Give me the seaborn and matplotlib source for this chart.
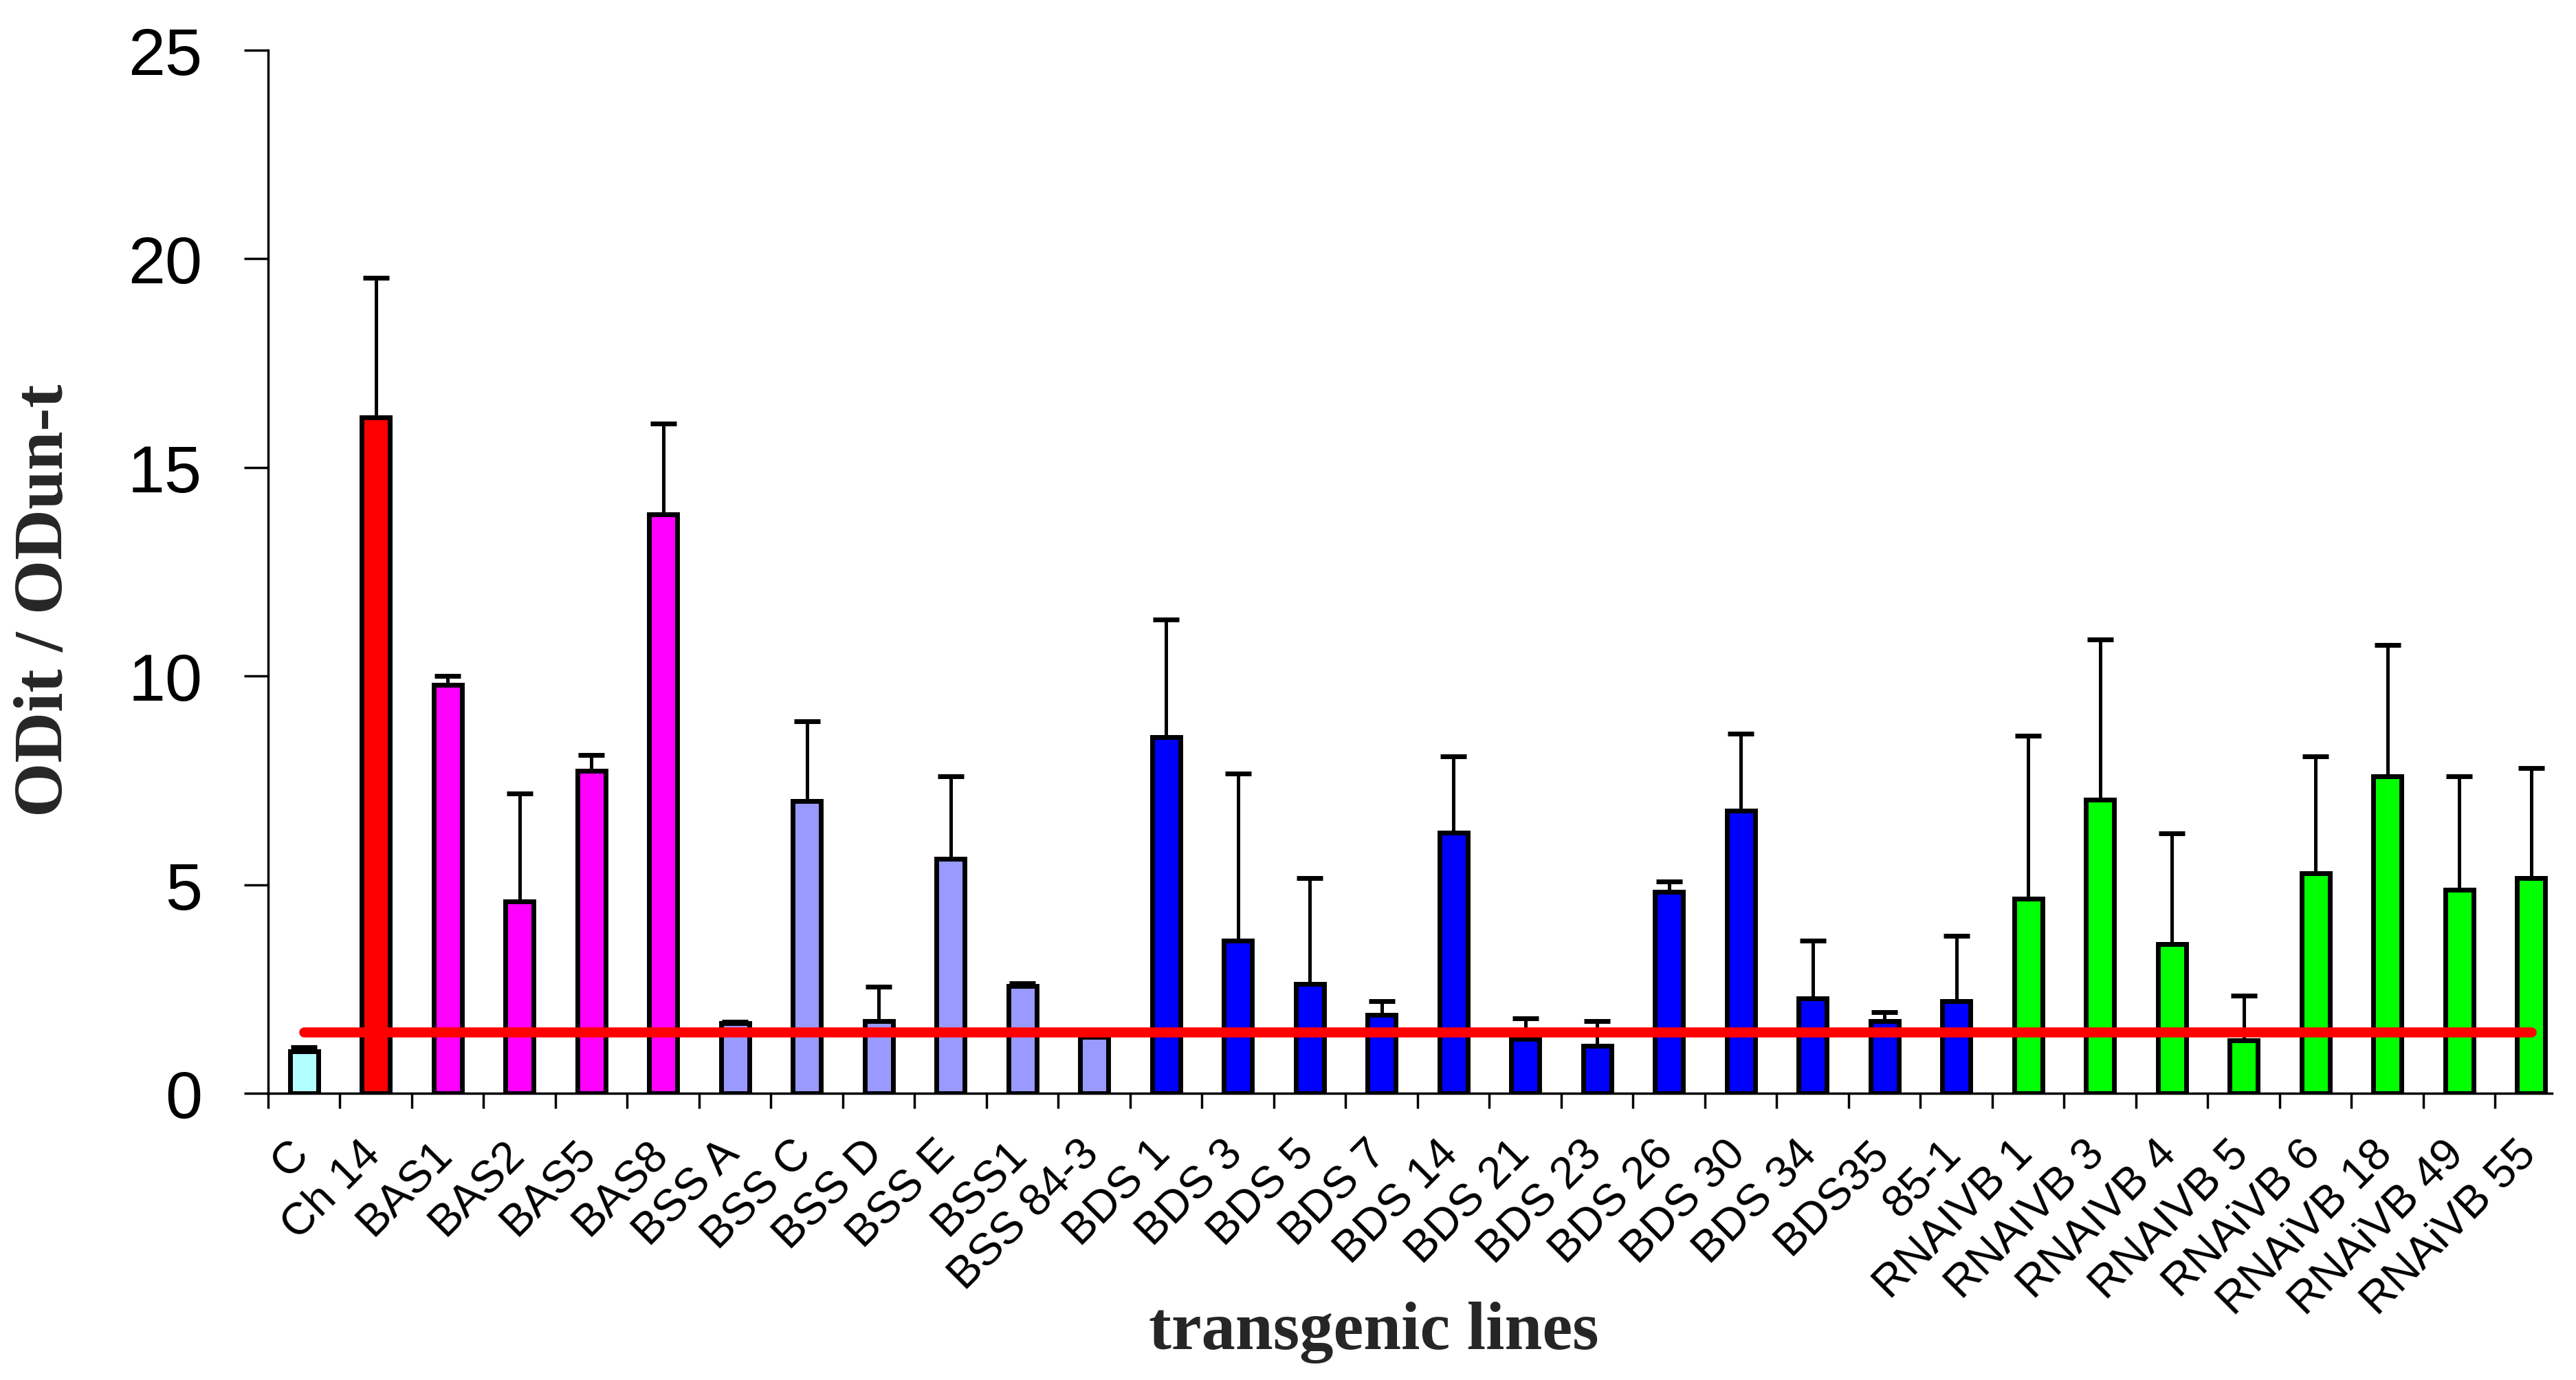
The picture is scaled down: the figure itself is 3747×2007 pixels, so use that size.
import matplotlib
matplotlib.use("Agg")
import matplotlib.pyplot as plt
import seaborn as sns
import pandas as pd
import numpy as np
from matplotlib.transforms import ScaledTranslation

# ---------------- data ----------------
categories = ["C", "Ch 14", "BAS1", "BAS2", "BAS5", "BAS8", "BSS A", "BSS C",
              "BSS D", "BSS E", "BSS1", "BSS 84-3", "BDS 1", "BDS 3", "BDS 5",
              "BDS 7", "BDS 14", "BDS 21", "BDS 23", "BDS 26", "BDS 30",
              "BDS 34", "BDS35", "85-1", "RNAIVB 1", "RNAIVB 3", "RNAIVB 4",
              "RNAIVB 5", "RNAiVB 6", "RNAiVB 18", "RNAiVB 49", "RNAiVB 55"]
values = [1.0, 16.19, 9.78, 4.59, 7.73, 13.87, 1.68, 7.0,
          1.73, 5.62, 2.57, 1.35, 8.54, 3.65, 2.62,
          1.88, 6.24, 1.3, 1.14, 4.82, 6.77,
          2.27, 1.73, 2.21, 4.67, 7.03, 3.57,
          1.27, 5.28, 7.6, 4.88, 5.15]
errors = [0.1, 3.35, 0.22, 2.6, 0.37, 2.18, 0.03, 1.91,
          0.82, 1.98, 0.07, 0.08, 2.81, 4.01, 2.53,
          0.33, 1.84, 0.5, 0.59, 0.26, 1.85,
          1.38, 0.22, 1.57, 3.89, 3.85, 2.66,
          1.07, 2.8, 3.14, 2.72, 2.65]
groups = (["control"] + ["Ch"] + ["BAS"] * 4 + ["BSS"] * 6 +
          ["BDS"] * 12 + ["RNAi"] * 8)
group_colors = {"control": "#B3FFFF", "Ch": "#FF0000", "BAS": "#FF00FF",
                "BSS": "#9999FF", "BDS": "#0000FF", "RNAi": "#00FF00"}
threshold = 1.47
yticks = [0, 5, 10, 15, 20, 25]
xlabel = "transgenic lines"
ylabel = "ODit / ODun-t"

# ---------------- plot ----------------
sns.set_theme(style="white")
plt.rcParams['font.family'] = ['Liberation Sans', 'DejaVu Sans']

df = pd.DataFrame({"line": categories, "value": values, "group": groups})
n = len(categories)

W, H, DPI = 3748, 2008, 100
fig = plt.figure(figsize=(W / DPI, H / DPI), dpi=DPI)
fig.patch.set_facecolor("white")
ax = fig.add_axes([390 / W, 1 - 1591 / H, (3712 - 390) / W, (1591 - 73.6) / H])

sns.barplot(data=df, x="line", y="value", hue="group", palette=group_colors,
            dodge=False, width=0.39, edgecolor="black", linewidth=5,
            saturation=1, errorbar=None, legend=False, ax=ax, zorder=2)

xpos = np.arange(n)
ax.errorbar(xpos, values, yerr=[np.zeros(n), errors], fmt="none",
            ecolor="black", elinewidth=3.6, capsize=14, capthick=5, zorder=1.5)

ax.plot([xpos[0], xpos[-1]], [threshold, threshold], color="#FF0000",
        lw=10.5, solid_capstyle="round", zorder=5)

ax.set_xlim(-0.5, 31.29)
ax.set_ylim(0, 25)
ax.set_yticks(yticks)
ax.set_yticklabels([str(v) for v in yticks])
ax.set_xticks(xpos)
ax.set_xticklabels(categories)
ax.set_xticks(np.arange(-0.5, n - 0.5, 1.0), minor=True)

for side in ["top", "right"]:
    ax.spines[side].set_visible(False)
for side in ["left", "bottom"]:
    ax.spines[side].set_linewidth(2.5)
    ax.spines[side].set_color("black")

ax.tick_params(axis="y", which="major", left=True, direction="out", length=25,
               width=2.5, pad=44, labelsize=70, colors="black")
ax.tick_params(axis="x", which="major", bottom=True, length=0, pad=41,
               labelsize=47, colors="black")
ax.tick_params(axis="x", which="minor", bottom=True, direction="out",
               length=16, width=2.5, color="black")

offset = ScaledTranslation(-24 / DPI, 0, fig.dpi_scale_trans)
for lbl in ax.get_xticklabels():
    lbl.set_rotation(45)
    lbl.set_ha("right")
    lbl.set_va("top")
    lbl.set_rotation_mode("anchor")
    lbl.set_transform(lbl.get_transform() + offset)

ax.set_xlabel("")
ax.set_ylabel("")
ax.grid(False)

fig.text(67 / W, 1 - 873 / H, ylabel, rotation=90, ha="center", va="center",
         fontsize=73.5, fontweight="bold", family=["Liberation Serif", "DejaVu Serif"])
fig.text(1998 / W, 1 - 1962 / H, xlabel, ha="center", va="baseline",
         fontsize=71, fontweight="bold", family=["Liberation Serif", "DejaVu Serif"])

fig.savefig("out.png", dpi=DPI, facecolor="white")
